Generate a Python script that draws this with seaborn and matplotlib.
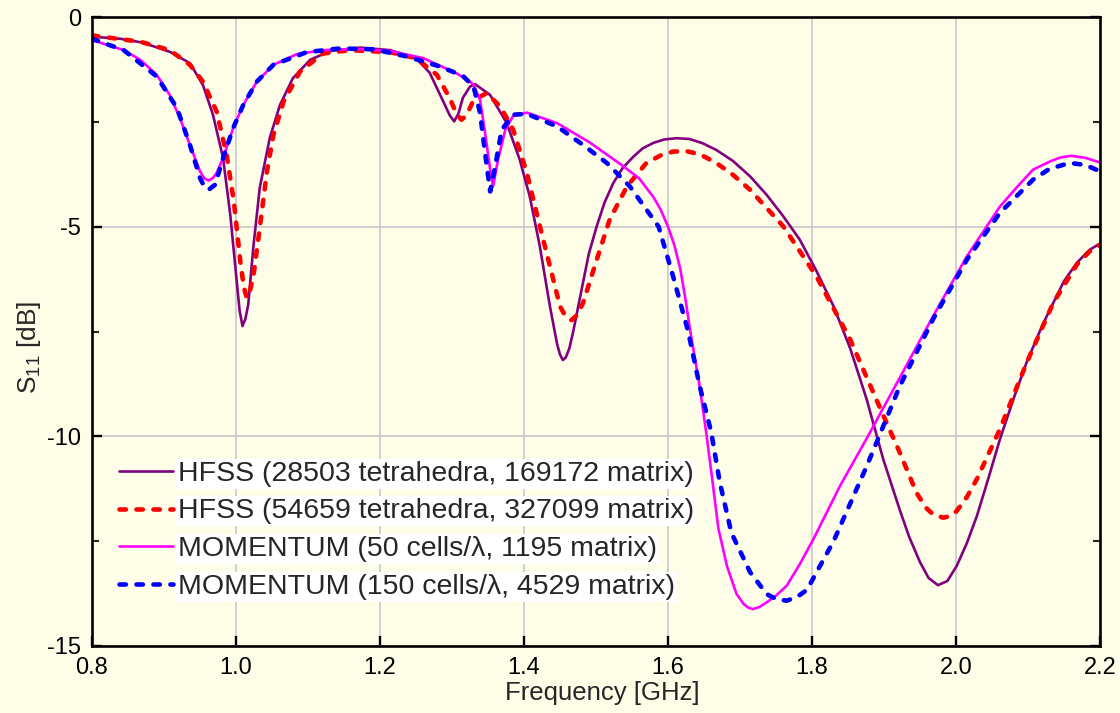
import matplotlib
matplotlib.use("Agg")
import matplotlib.pyplot as plt
import matplotlib.ticker as mticker
import seaborn as sns

# ---- S11 traces (frequency in GHz, S11 in dB) ----
hfss_a_f = [0.800, 0.840, 0.870, 0.908, 0.936, 0.954, 0.968, 0.982, 0.992, 1.001,
            1.005, 1.009, 1.013, 1.017, 1.024, 1.033, 1.047, 1.061, 1.079, 1.103,
            1.131, 1.172, 1.214, 1.250, 1.269, 1.288, 1.297, 1.303, 1.309, 1.315,
            1.325, 1.332, 1.353, 1.376, 1.394, 1.408, 1.422, 1.436, 1.446, 1.450,
            1.454, 1.458, 1.463, 1.468, 1.482, 1.490, 1.501, 1.512, 1.524, 1.537,
            1.552, 1.565, 1.580, 1.595, 1.612, 1.630, 1.648, 1.667, 1.690, 1.714,
            1.737, 1.760, 1.783, 1.806, 1.830, 1.853, 1.876, 1.899, 1.922, 1.935,
            1.950, 1.962, 1.975, 1.988, 2.001, 2.015, 2.029, 2.045, 2.061, 2.080,
            2.098, 2.120, 2.135, 2.150, 2.168, 2.185, 2.200]
hfss_a_db = [-0.47, -0.52, -0.61, -0.83, -1.10, -1.62, -2.33, -3.36, -4.71, -6.30,
             -7.00, -7.37, -7.20, -6.86, -5.50, -4.07, -2.88, -2.10, -1.46, -1.02,
             -0.81, -0.73, -0.79, -0.98, -1.33, -2.02, -2.35, -2.49, -2.30, -1.93,
             -1.66, -1.60, -1.86, -2.53, -3.40, -4.28, -5.47, -6.90, -7.80, -8.05,
             -8.18, -8.12, -7.90, -7.53, -6.33, -5.65, -4.99, -4.42, -3.96, -3.60,
             -3.33, -3.13, -3.00, -2.92, -2.89, -2.91, -3.01, -3.17, -3.43, -3.80,
             -4.24, -4.75, -5.31, -6.05, -6.90, -7.90, -9.12, -10.55, -11.76, -12.40,
             -13.00, -13.38, -13.55, -13.45, -13.09, -12.55, -11.90, -11.00, -10.07, -9.10,
             -8.24, -7.35, -6.82, -6.30, -5.86, -5.56, -5.40]

hfss_b_f = [0.800, 0.867, 0.908, 0.936, 0.954, 0.973, 0.987, 0.997, 1.006, 1.011,
            1.015, 1.019, 1.024, 1.033, 1.043, 1.052, 1.066, 1.089, 1.121, 1.158,
            1.214, 1.250, 1.279, 1.297, 1.306, 1.313, 1.320, 1.330, 1.348, 1.367,
            1.385, 1.404, 1.422, 1.436, 1.450, 1.458, 1.466, 1.474, 1.482, 1.501,
            1.519, 1.543, 1.570, 1.590, 1.607, 1.626, 1.645, 1.667, 1.690, 1.714,
            1.760, 1.806, 1.853, 1.899, 1.922, 1.945, 1.958, 1.968, 1.982, 1.993,
            2.001, 2.015, 2.029, 2.061, 2.098, 2.135, 2.168, 2.185, 2.200]
hfss_b_db = [-0.44, -0.59, -0.79, -1.14, -1.54, -2.25, -3.29, -4.40, -5.83, -6.45,
             -6.70, -6.55, -6.20, -5.03, -3.68, -2.81, -2.02, -1.30, -0.87, -0.79,
             -0.84, -0.98, -1.38, -1.94, -2.30, -2.45, -2.35, -1.98, -1.82, -2.13,
             -2.69, -3.72, -4.99, -5.94, -6.90, -7.15, -7.23, -7.10, -6.82, -5.79,
             -4.83, -4.04, -3.48, -3.30, -3.21, -3.20, -3.28, -3.48, -3.76, -4.12,
             -4.99, -6.18, -7.69, -9.50, -10.39, -11.34, -11.70, -11.86, -11.94, -11.90,
             -11.78, -11.45, -11.02, -9.83, -8.25, -6.82, -5.90, -5.60, -5.43]

mom_a_f = [0.800, 0.844, 0.867, 0.890, 0.908, 0.922, 0.936, 0.950, 0.956, 0.962,
           0.968, 0.973, 0.982, 0.996, 1.010, 1.029, 1.052, 1.084, 1.121, 1.168,
           1.214, 1.260, 1.306, 1.325, 1.330, 1.339, 1.346, 1.353, 1.357, 1.364,
           1.374, 1.385, 1.404, 1.446, 1.492, 1.538, 1.560, 1.580, 1.590, 1.600,
           1.609, 1.617, 1.624, 1.631, 1.643, 1.653, 1.662, 1.670, 1.682, 1.695,
           1.705, 1.712, 1.718, 1.727, 1.737, 1.750, 1.765, 1.783, 1.802, 1.839,
           1.876, 1.922, 1.968, 2.015, 2.061, 2.085, 2.107, 2.130, 2.145, 2.160,
           2.180, 2.200]
mom_a_db = [-0.55, -0.79, -1.02, -1.38, -1.86, -2.41, -3.05, -3.68, -3.85, -3.90,
            -3.84, -3.72, -3.37, -2.65, -2.10, -1.54, -1.14, -0.89, -0.79, -0.76,
            -0.81, -0.98, -1.34, -1.54, -1.62, -1.98, -2.77, -3.64, -4.04, -3.40,
            -2.69, -2.36, -2.28, -2.53, -3.00, -3.56, -3.85, -4.30, -4.60, -5.00,
            -5.45, -6.00, -6.70, -7.50, -8.70, -9.90, -11.10, -12.20, -13.10, -13.75,
            -14.00, -14.09, -14.12, -14.07, -13.96, -13.80, -13.56, -13.05, -12.45, -11.18,
            -10.05, -8.60, -7.14, -5.71, -4.52, -4.05, -3.64, -3.45, -3.35, -3.31,
            -3.36, -3.47]

mom_b_f = [0.800, 0.844, 0.890, 0.918, 0.936, 0.950, 0.956, 0.962, 0.971, 0.982,
           0.996, 1.010, 1.029, 1.052, 1.098, 1.144, 1.191, 1.237, 1.283, 1.306,
           1.316, 1.330, 1.339, 1.346, 1.353, 1.360, 1.369, 1.385, 1.404, 1.446,
           1.482, 1.515, 1.547, 1.587, 1.607, 1.628, 1.644, 1.660, 1.672, 1.688,
           1.714, 1.737, 1.750, 1.765, 1.780, 1.793, 1.830, 1.876, 1.892, 1.922,
           1.968, 2.015, 2.061, 2.107, 2.130, 2.158, 2.180, 2.200]
mom_b_db = [-0.52, -0.79, -1.42, -2.17, -3.05, -3.84, -4.05, -4.12, -4.00, -3.37,
            -2.65, -2.10, -1.54, -1.14, -0.84, -0.75, -0.77, -0.94, -1.18, -1.34,
            -1.42, -1.66, -2.29, -3.25, -4.16, -3.56, -2.69, -2.33, -2.31, -2.61,
            -3.05, -3.48, -4.04, -5.00, -6.18, -7.50, -8.80, -9.90, -11.10, -12.30,
            -13.24, -13.76, -13.88, -13.92, -13.82, -13.66, -12.50, -10.71, -10.05, -8.80,
            -7.21, -5.79, -4.67, -3.88, -3.62, -3.48, -3.53, -3.68]

labels = ["HFSS (28503 tetrahedra, 169172 matrix)",
          "HFSS (54659 tetrahedra, 327099 matrix)",
          "MOMENTUM (50 cells/\u03bb, 1195 matrix)",
          "MOMENTUM (150 cells/\u03bb, 4529 matrix)"]
colors = ["#800080", "#FF0000", "#FF00FF", "#0000FF"]

x_ticks = [0.8, 1.0, 1.2, 1.4, 1.6, 1.8, 2.0, 2.2]
y_ticks = [0, -5, -10, -15]

bg = "#FEFEE8"
sns.set_style("ticks")
plt.rcParams["font.family"] = ["Liberation Sans", "DejaVu Sans"]
plt.rcParams["mathtext.fontset"] = "custom"
plt.rcParams["mathtext.rm"] = "Liberation Sans"
plt.rcParams["mathtext.it"] = "Liberation Sans"

fig = plt.figure(figsize=(11.2, 7.13), dpi=100, facecolor=bg)
ax = fig.add_axes([92 / 1120, 1 - 646 / 713, 1008 / 1120, 629 / 713])
ax.set_facecolor(bg)

series = [(hfss_a_f, hfss_a_db), (hfss_b_f, hfss_b_db),
          (mom_a_f, mom_a_db), (mom_b_f, mom_b_db)]
styles = [dict(lw=1.9, dashed=False), dict(lw=3.3, dashed=True),
          dict(lw=1.9, dashed=False), dict(lw=3.3, dashed=True)]

for (fx, fy), lab, col, st in zip(series, labels, colors, styles):
    sns.lineplot(x=fx, y=fy, ax=ax, color=col, lw=st["lw"], label=lab,
                 estimator=None, sort=False)
    line = ax.lines[-1]
    line.set_solid_joinstyle("round")
    line.set_dash_joinstyle("round")
    if st["dashed"]:
        line.set_dashes((1.4, 2.3))
        line.set_dash_capstyle("round")

ax.set_xlim(0.8, 2.2)
ax.set_ylim(-15, 0)
ax.set_xticks(x_ticks)
ax.set_yticks(y_ticks)
ax.set_xticklabels([f"{v:.1f}" for v in x_ticks])
ax.set_yticklabels([f"{v:d}" for v in y_ticks])
ax.yaxis.set_minor_locator(mticker.MultipleLocator(2.5))

ax.grid(True, which="major", color="#CCCCCC", lw=1.3)
ax.set_axisbelow(True)
for sp in ax.spines.values():
    sp.set_visible(True)
    sp.set_linewidth(1.9)
    sp.set_color("black")

ax.tick_params(axis="both", which="major", direction="in", length=7, width=1.7,
               labelsize=17, pad=8, colors="black")
ax.tick_params(axis="y", which="both", right=True, left=True, direction="in")
ax.tick_params(axis="y", which="minor", length=5, width=1.5)
ax.tick_params(axis="x", top=False)

ax.set_xlabel("Frequency [GHz]", fontsize=18.5)
ax.set_ylabel("S$_{11}$ [dB]", fontsize=19)
ax.xaxis.set_label_coords(0.506, -0.056)
ax.yaxis.set_label_coords(-0.049, 0.475)

leg = ax.legend(loc="upper left", bbox_to_anchor=(0.015, 0.313), frameon=False,
                fontsize=20.5, handlelength=1.9, handletextpad=0.2,
                labelspacing=0.42, borderaxespad=0)
for t in leg.get_texts():
    t.set_bbox(dict(facecolor="white", edgecolor="none", pad=1.5))

fig.savefig("out.png", dpi=100, facecolor=bg)
